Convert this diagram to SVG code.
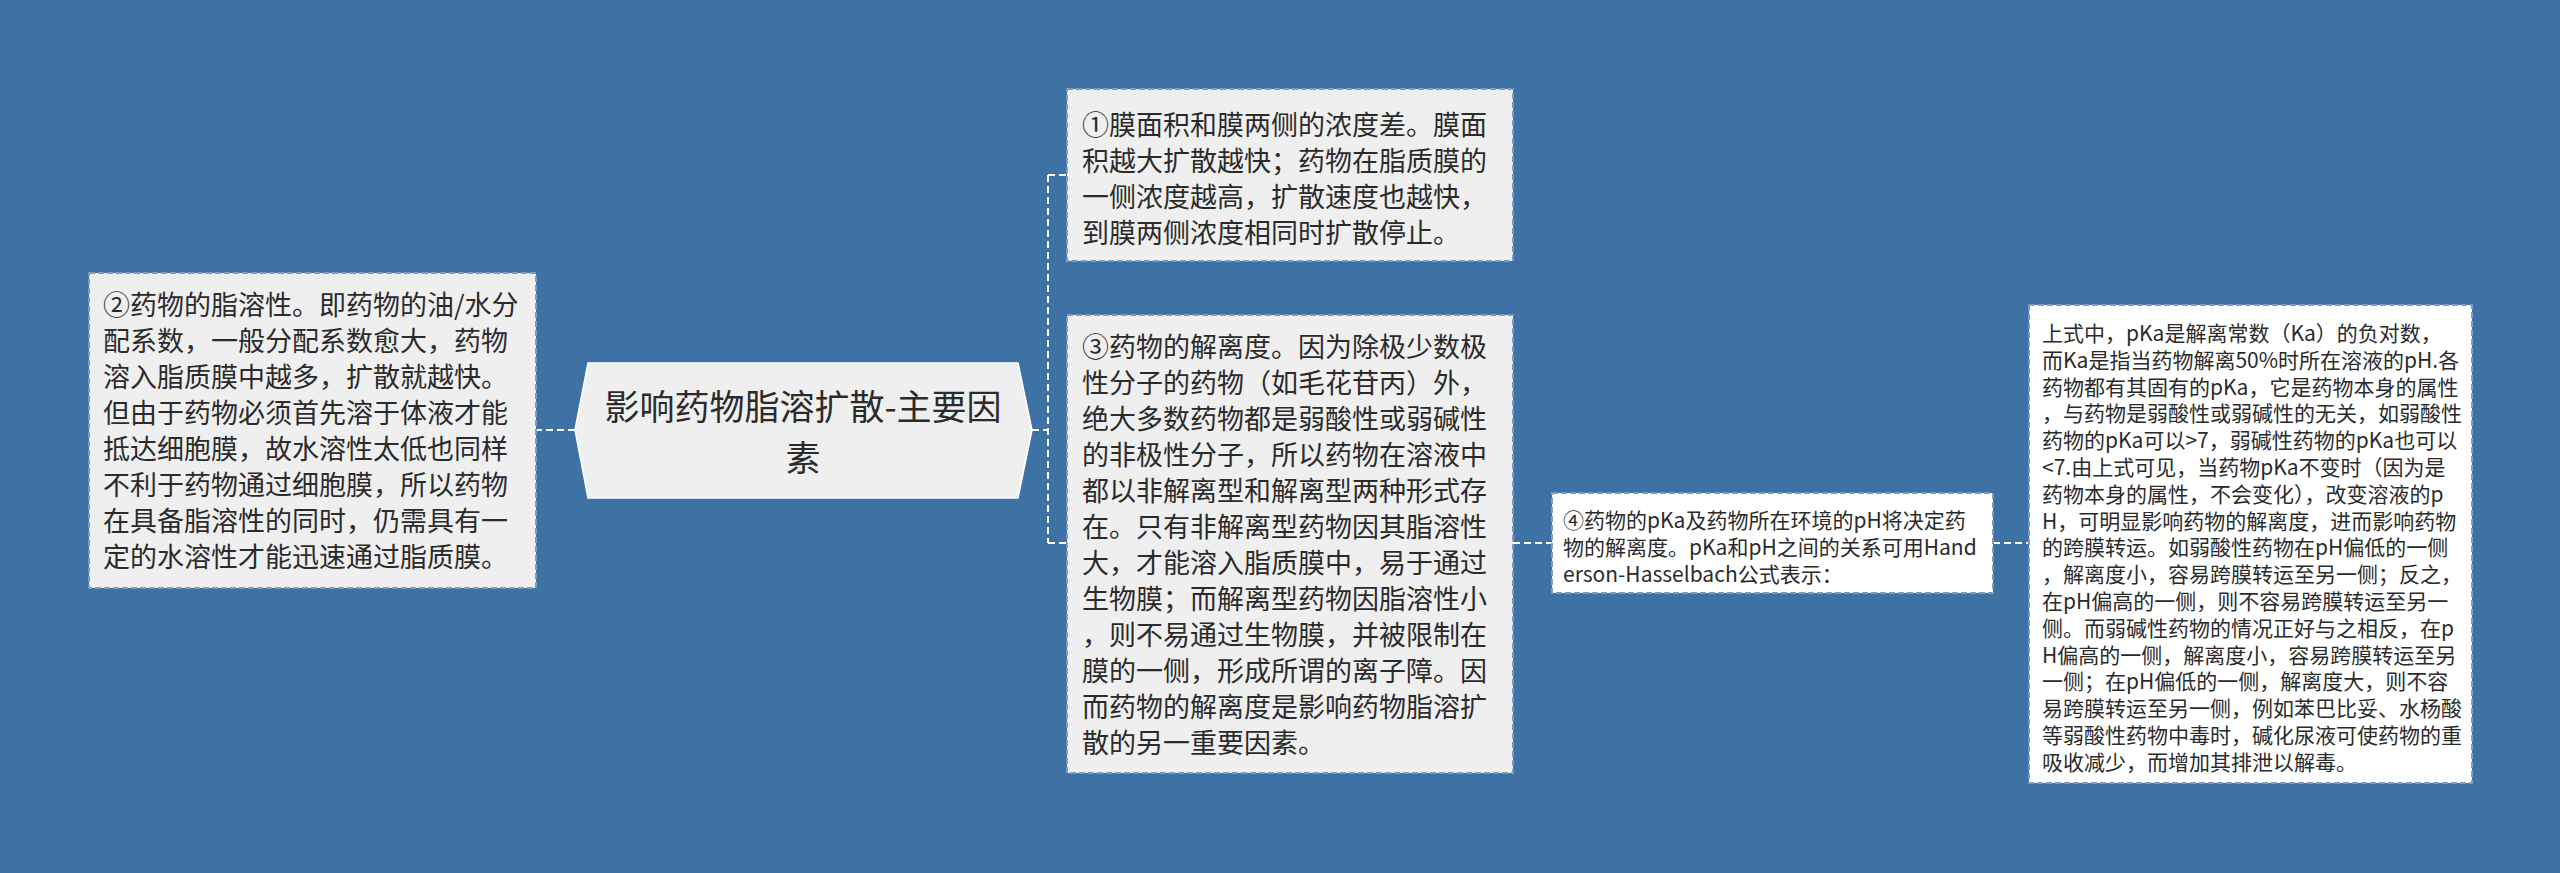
<svg xmlns="http://www.w3.org/2000/svg" width="2560" height="873" viewBox="0 0 2560 873">
<style>
.bg{fill:#3e72a5}
.box{fill:#efefef;stroke:#7f9cbd;stroke-width:2;stroke-dasharray:6 3}
.wbox{fill:#ffffff;stroke:#7f9cbd;stroke-width:2;stroke-dasharray:6 3}
.conn{fill:none;stroke:#ffffff;stroke-width:2;stroke-dasharray:7 4}
text{font-family:"Noto Sans CJK SC","Microsoft YaHei",sans-serif;fill:#2b2b2b}
.t27{font-size:27px}
.t21{font-size:21px}
.t35{font-size:35px}
</style>
<rect class="bg" x="0" y="0" width="2560" height="873"/>
<g id="connectors">
<path class="conn" d="M575 430 H536"/>
<path class="conn" d="M1032 430 H1048 M1048 175 V543 M1048 175 H1067 M1048 543 H1067"/>
<path class="conn" d="M1513 543 H1552"/>
<path class="conn" d="M1993 543 H2029"/>
</g>
<g id="center">
<polygon points="575,430 588,363 1018,363 1032,430 1018,498 588,498" fill="#efefef" stroke="#ffffff" stroke-width="1.5"/>
<text class="t35" text-anchor="middle"><tspan x="803" y="420">影响药物脂溶扩散-主要因</tspan><tspan x="803" y="471">素</tspan></text>
</g>
<g id="node2">
<rect class="box" x="89" y="273" width="447" height="315"/>
<text class="t27"><tspan x="103" y="315">②药物的脂溶性。即药物的油/水分</tspan><tspan x="103" y="351">配系数，一般分配系数愈大，药物</tspan><tspan x="103" y="387">溶入脂质膜中越多，扩散就越快。</tspan><tspan x="103" y="423">但由于药物必须首先溶于体液才能</tspan><tspan x="103" y="459">抵达细胞膜，故水溶性太低也同样</tspan><tspan x="103" y="495">不利于药物通过细胞膜，所以药物</tspan><tspan x="103" y="531">在具备脂溶性的同时，仍需具有一</tspan><tspan x="103" y="567">定的水溶性才能迅速通过脂质膜。</tspan></text>
</g>
<g id="node1">
<rect class="box" x="1067" y="89" width="446" height="172"/>
<text class="t27"><tspan x="1082" y="135">①膜面积和膜两侧的浓度差。膜面</tspan><tspan x="1082" y="171">积越大扩散越快；药物在脂质膜的</tspan><tspan x="1082" y="207">一侧浓度越高，扩散速度也越快，</tspan><tspan x="1082" y="243">到膜两侧浓度相同时扩散停止。</tspan></text>
</g>
<g id="node3">
<rect class="box" x="1067" y="315" width="446" height="458"/>
<text class="t27"><tspan x="1082" y="357">③药物的解离度。因为除极少数极</tspan><tspan x="1082" y="393">性分子的药物（如毛花苷丙）外，</tspan><tspan x="1082" y="429">绝大多数药物都是弱酸性或弱碱性</tspan><tspan x="1082" y="465">的非极性分子，所以药物在溶液中</tspan><tspan x="1082" y="501">都以非解离型和解离型两种形式存</tspan><tspan x="1082" y="537">在。只有非解离型药物因其脂溶性</tspan><tspan x="1082" y="573">大，才能溶入脂质膜中，易于通过</tspan><tspan x="1082" y="609">生物膜；而解离型药物因脂溶性小</tspan><tspan x="1082" y="645">，则不易通过生物膜，并被限制在</tspan><tspan x="1082" y="681">膜的一侧，形成所谓的离子障。因</tspan><tspan x="1082" y="717">而药物的解离度是影响药物脂溶扩</tspan><tspan x="1082" y="753">散的另一重要因素。</tspan></text>
</g>
<g id="node4">
<rect class="wbox" x="1552" y="493" width="441" height="100"/>
<text class="t21"><tspan x="1563" y="528">④药物的pKa及药物所在环境的pH将决定药</tspan><tspan x="1563" y="555">物的解离度。pKa和pH之间的关系可用Hand</tspan><tspan x="1563" y="582">erson-Hasselbach公式表示：</tspan></text>
</g>
<g id="node5">
<rect class="wbox" x="2029" y="305" width="443" height="478"/>
<text class="t21"><tspan x="2042" y="341">上式中，pKa是解离常数（Ka）的负对数，</tspan><tspan x="2042" y="367.8">而Ka是指当药物解离50%时所在溶液的pH.各</tspan><tspan x="2042" y="394.6">药物都有其固有的pKa，它是药物本身的属性</tspan><tspan x="2042" y="421.4">，与药物是弱酸性或弱碱性的无关，如弱酸性</tspan><tspan x="2042" y="448.2">药物的pKa可以&gt;7，弱碱性药物的pKa也可以</tspan><tspan x="2042" y="475">&lt;7.由上式可见，当药物pKa不变时（因为是</tspan><tspan x="2042" y="501.8">药物本身的属性，不会变化），改变溶液的p</tspan><tspan x="2042" y="528.6">H，可明显影响药物的解离度，进而影响药物</tspan><tspan x="2042" y="555.4">的跨膜转运。如弱酸性药物在pH偏低的一侧</tspan><tspan x="2042" y="582.2">，解离度小，容易跨膜转运至另一侧；反之，</tspan><tspan x="2042" y="609">在pH偏高的一侧，则不容易跨膜转运至另一</tspan><tspan x="2042" y="635.8">侧。而弱碱性药物的情况正好与之相反，在p</tspan><tspan x="2042" y="662.6">H偏高的一侧，解离度小，容易跨膜转运至另</tspan><tspan x="2042" y="689.4">一侧；在pH偏低的一侧，解离度大，则不容</tspan><tspan x="2042" y="716.2">易跨膜转运至另一侧，例如苯巴比妥、水杨酸</tspan><tspan x="2042" y="743">等弱酸性药物中毒时，碱化尿液可使药物的重</tspan><tspan x="2042" y="769.8">吸收减少，而增加其排泄以解毒。</tspan></text>
</g>
</svg>
